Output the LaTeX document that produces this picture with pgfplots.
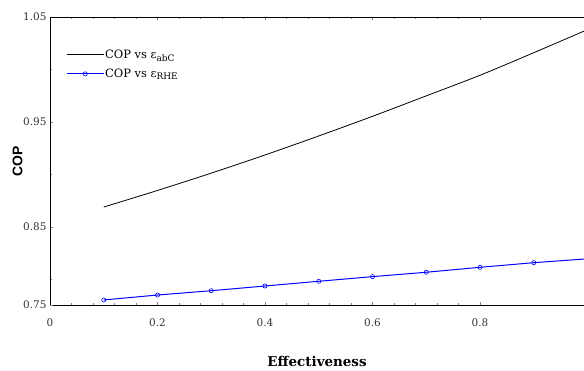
\documentclass[border=0pt]{standalone}
\usepackage{pgfplots}
\pgfplotsset{compat=1.18}
\usepackage{fontspec}
\setmainfont{DejaVu Serif}
\newfontfamily\labsans{Liberation Sans}
\begin{document}
\begin{tikzpicture}
\begin{axis}[
  at={(0,0)}, anchor=south west,
  scale only axis,
  width=534bp, height=288bp,
  xmin=0, xmax=0.9935,
  ymin=0.7757, ymax=1.05,
  axis x line*=box, axis y line*=left,
  axis line style={line width=0.8pt},
  tick align=inside,
  major tick length=3bp, minor tick length=2bp,
  xtick={0,0.2,0.4,0.6,0.8},
  xticklabels={0,0.2,0.4,0.6,0.8},
  minor x tick num=4,
  ytick={0.85,0.95,1.05},
  yticklabels={0.85,0.95,1.05},
  minor ytick={0.80,0.90,1.00},
  extra y ticks={0.7757},
  extra y tick labels={0.75},
  tick label style={font=\fontsize{10.5}{12}\selectfont, color=black!80},
  xticklabel style={yshift=-10bp},
  xlabel={\fontsize{13.5}{15}\selectfont\bfseries Effectiveness},
  ylabel={\labsans\fontsize{14}{16}\selectfont\bfseries COP},
  xlabel style={at={(axis description cs:0.5,0)}, anchor=north, yshift=-48bp},
  ylabel style={at={(axis description cs:0,0.5)}, anchor=south, xshift=0bp, yshift=24bp},
  legend cell align=left,
  legend style={at={(axis description cs:0.03,0.89)}, anchor=north west, draw=none, fill=none,
    font=\fontsize{11.5}{13}\selectfont, row sep=7bp, inner sep=0pt,
    nodes={inner sep=1bp}},
  legend image code/.code={\draw[mark repeat=2, mark phase=2, #1] plot coordinates {(0bp,0bp) (18.5bp,0bp) (37bp,0bp)};},
]
\addplot[black, line width=0.8pt, smooth, mark=none] coordinates {
(0.1,0.869) (0.2,0.8848) (0.3,0.9013) (0.4,0.9186) (0.5,0.9367)
(0.6,0.9554) (0.7,0.9749) (0.8,0.9945) (0.9,1.0160) (1.0,1.0380)
};
\addlegendentry{COP vs ε\textsubscript{\fontsize{9}{10}\selectfont abC}}
\addplot[blue, line width=1pt, mark=o, mark size=2.1pt, mark options={fill=white, line width=0.6pt}] coordinates {
(0.1,0.7805) (0.2,0.7852) (0.3,0.7893) (0.4,0.7938) (0.5,0.7983)
(0.6,0.8027) (0.7,0.8069) (0.8,0.8116) (0.9,0.8160) (1.0,0.8197)
};
\addlegendentry{COP vs ε\textsubscript{\fontsize{9}{10}\selectfont RHE}}
\end{axis}
\pgfresetboundingbox
\path[use as bounding box] (-50bp,-66bp) rectangle (534bp,305bp);
\end{tikzpicture}
\end{document}
